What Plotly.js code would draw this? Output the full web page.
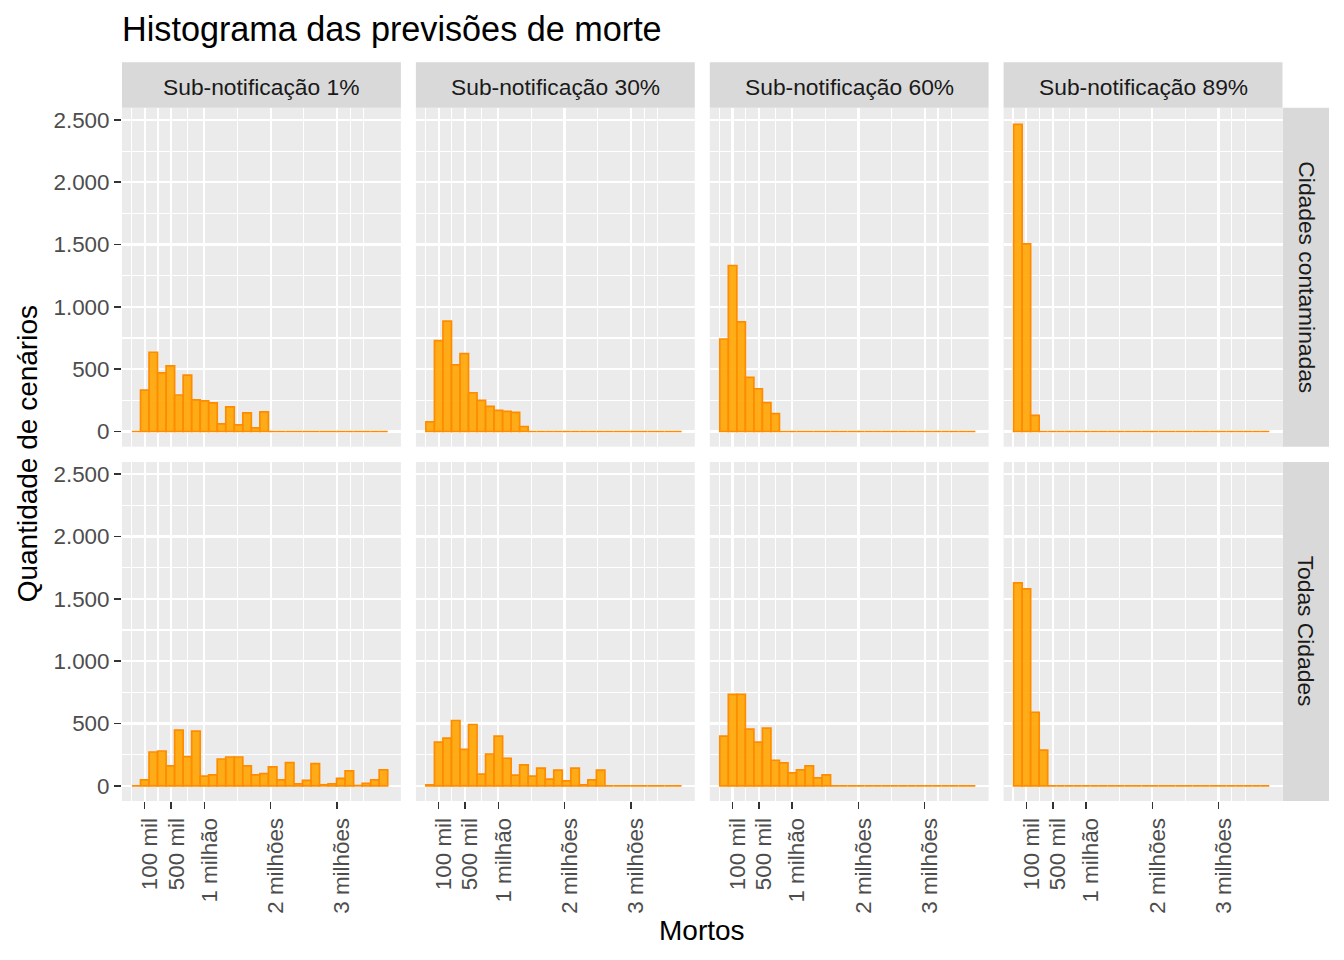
<!DOCTYPE html>
<html>
<head>
<meta charset="utf-8">
<script src="https://cdn.plot.ly/plotly-3.0.1.min.js"></script>
<style>html,body{margin:0;padding:0;background:#fff;}#chart{width:1344px;height:960px;}</style>
</head>
<body>
<div id="chart"></div>
<script>
// ---- data (counts per histogram bin, 30 bins) ----
const binStart = -91500;      // left edge of first bin (deaths)
const binWidth = 128540;      // bin width (deaths)
const colLabels = ["Sub-notificação 1%", "Sub-notificação 30%", "Sub-notificação 60%", "Sub-notificação 89%"];
const rowLabels = ["Cidades contaminadas", "Todas Cidades"];

const cont1  = [0, 332, 636, 471, 527, 293, 452, 253, 245, 229, 61, 197, 53, 149, 29, 157, 0, 0, 0, 0, 0, 0, 0, 0, 0, 0, 0, 0, 0, 0];
const cont30 = [77, 729, 886, 535, 625, 311, 250, 202, 170, 162, 154, 40, 0, 0, 0, 0, 0, 0, 0, 0, 0, 0, 0, 0, 0, 0, 0, 0, 0, 0];
const cont60 = [742, 1332, 880, 434, 343, 231, 144, 0, 0, 0, 0, 0, 0, 0, 0, 0, 0, 0, 0, 0, 0, 0, 0, 0, 0, 0, 0, 0, 0, 0];
const cont89 = [2465, 1505, 130, 0, 0, 0, 0, 0, 0, 0, 0, 0, 0, 0, 0, 0, 0, 0, 0, 0, 0, 0, 0, 0, 0, 0, 0, 0, 0, 0];
const todas1  = [0, 48, 271, 279, 160, 447, 234, 439, 77, 88, 215, 231, 231, 160, 88, 98, 152, 48, 186, 16, 43, 178, 8, 16, 59, 120, 2, 19, 48, 128];
const todas30 = [8, 351, 383, 524, 293, 492, 93, 255, 399, 221, 85, 168, 77, 141, 53, 125, 40, 141, 8, 48, 125, 0, 0, 0, 0, 0, 0, 0, 0, 0];
const todas60 = [399, 734, 734, 455, 351, 463, 205, 184, 104, 128, 160, 64, 88, 0, 0, 0, 0, 0, 0, 0, 0, 0, 0, 0, 0, 0, 0, 0, 0, 0];
const todas89 = [1628, 1580, 590, 287, 0, 0, 0, 0, 0, 0, 0, 0, 0, 0, 0, 0, 0, 0, 0, 0, 0, 0, 0, 0, 0, 0, 0, 0, 0, 0];

const xTickVals = [100000, 500000, 1000000, 2000000, 3000000];
const xTickText = ["100 mil", "500 mil", "1 milhão", "2 milhões", "3 milhões"];
const xMinorVals = [-100000, 300000, 750000, 1500000, 2500000, 3200000, 3400000];
const yTickVals = [0, 500, 1000, 1500, 2000, 2500];
const yTickText = ["0", "500", "1.000", "1.500", "2.000", "2.500"];
const yMinorVals = [250, 750, 1250, 1750, 2250];

const panels = [[cont1, cont30, cont60, cont89], [todas1, todas30, todas60, todas89]];

// ---- layout geometry (pixels) ----
const W = 1344, H = 960;
const FONT = "Liberation Sans, Arial, sans-serif";
const colX = [[122, 400.9], [415.9, 694.8], [709.8, 988.6], [1003.6, 1282.5]];
const rowY = [[107.7, 446.7], [462, 801]];
const stripTop = [62.3, 107.7];
const stripRight = [1282.7, 1329];

const binCenters = cont1.map((_, i) => binStart + binWidth * (i + 0.5));

const traces = [];
const layout = {
  width: W, height: H,
  margin: {l: 0, r: 0, t: 0, b: 0},
  paper_bgcolor: "#FFFFFF",
  plot_bgcolor: "#EBEBEB",
  showlegend: false,
  bargap: 0,
  separators: ",.",
  font: {family: FONT, color: "#000000"},
  title: {
    text: "Histograma das previsões de morte",
    x: 122 / W, xanchor: "left", xref: "paper",
    y: 1 - 29.5 / H, yanchor: "middle", yref: "paper",
    font: {family: FONT, size: 34.2, color: "#000000"}
  },
  shapes: [],
  annotations: []
};

let k = 0;
for (let r = 0; r < 2; r++) {
  for (let c = 0; c < 4; c++) {
    k++;
    const sx = k === 1 ? "" : String(k);
    traces.push({
      type: "bar",
      x: binCenters,
      y: panels[r][c],
      width: binWidth,
      xaxis: "x" + sx,
      yaxis: "y" + sx,
      marker: {color: "rgba(255,165,0,0.9)", line: {color: "#FF8C00", width: 1.7}},
      hoverinfo: "x+y"
    });
    const bottom = r === 1, left = c === 0;
    layout["xaxis" + sx] = {
      domain: [colX[c][0] / W, colX[c][1] / W],
      anchor: "y" + sx,
      range: [-242400, 3963700],
      tickmode: "array", tickvals: xTickVals, ticktext: xTickText,
      showticklabels: bottom,
      ticks: bottom ? "outside" : "",
      ticklen: 7, tickwidth: 1.5, tickcolor: "#333333",
      tickangle: -90,
      ticklabelshift: 5,
      tickfont: {family: FONT, size: 22.4, color: "#4D4D4D"},
      showgrid: true, gridcolor: "#FFFFFF", gridwidth: 2.2,
      minor: {tickmode: "array", tickvals: xMinorVals, showgrid: true, gridcolor: "#FFFFFF", gridwidth: 1.1, ticks: ""},
      zeroline: false, showline: false, fixedrange: true
    };
    layout["yaxis" + sx] = {
      domain: [1 - rowY[r][1] / H, 1 - rowY[r][0] / H],
      anchor: "x" + sx,
      range: [-122, 2598],
      tickmode: "array", tickvals: yTickVals, ticktext: yTickText,
      showticklabels: left,
      ticks: left ? "outside" : "",
      ticklen: 7, tickwidth: 1.5, tickcolor: "#333333",
      tickfont: {family: FONT, size: 22.4, color: "#4D4D4D"},
      showgrid: true, gridcolor: "#FFFFFF", gridwidth: 2.2,
      minor: {tickmode: "array", tickvals: yMinorVals, showgrid: true, gridcolor: "#FFFFFF", gridwidth: 1.1, ticks: ""},
      zeroline: false, showline: false, fixedrange: true
    };
  }
}

// top strips
for (let c = 0; c < 4; c++) {
  layout.shapes.push({
    type: "rect", xref: "paper", yref: "paper", layer: "below",
    x0: colX[c][0] / W, x1: colX[c][1] / W,
    y0: 1 - stripTop[1] / H, y1: 1 - stripTop[0] / H,
    fillcolor: "#D9D9D9", line: {width: 0}
  });
  layout.annotations.push({
    xref: "paper", yref: "paper", showarrow: false,
    x: (colX[c][0] + colX[c][1]) / 2 / W, y: 1 - 87 / H,
    xanchor: "center", yanchor: "middle",
    text: colLabels[c],
    font: {family: FONT, size: 22.8, color: "#1A1A1A"}
  });
}
// right strips
for (let r = 0; r < 2; r++) {
  layout.shapes.push({
    type: "rect", xref: "paper", yref: "paper", layer: "below",
    x0: stripRight[0] / W, x1: stripRight[1] / W,
    y0: 1 - rowY[r][1] / H, y1: 1 - rowY[r][0] / H,
    fillcolor: "#D9D9D9", line: {width: 0}
  });
  layout.annotations.push({
    xref: "paper", yref: "paper", showarrow: false,
    x: (stripRight[0] + stripRight[1] + 2) / 2 / W, y: 1 - (rowY[r][0] + rowY[r][1]) / 2 / H,
    xanchor: "center", yanchor: "middle", textangle: 90,
    text: rowLabels[r],
    font: {family: FONT, size: 22.8, color: "#1A1A1A"}
  });
}
// axis titles
layout.annotations.push({
  xref: "paper", yref: "paper", showarrow: false,
  x: (colX[0][0] + colX[3][1]) / 2 / W, y: 1 - 930 / H,
  xanchor: "center", yanchor: "middle",
  text: "Mortos",
  font: {family: FONT, size: 28, color: "#000000"}
});
layout.annotations.push({
  xref: "paper", yref: "paper", showarrow: false,
  x: 27 / W, y: 1 - (rowY[0][0] + rowY[1][1]) / 2 / H,
  xanchor: "center", yanchor: "middle", textangle: -90,
  text: "Quantidade de cenários",
  font: {family: FONT, size: 28, color: "#000000"}
});

Plotly.newPlot("chart", traces, layout, {displayModeBar: false, staticPlot: true});
</script>
</body>
</html>
